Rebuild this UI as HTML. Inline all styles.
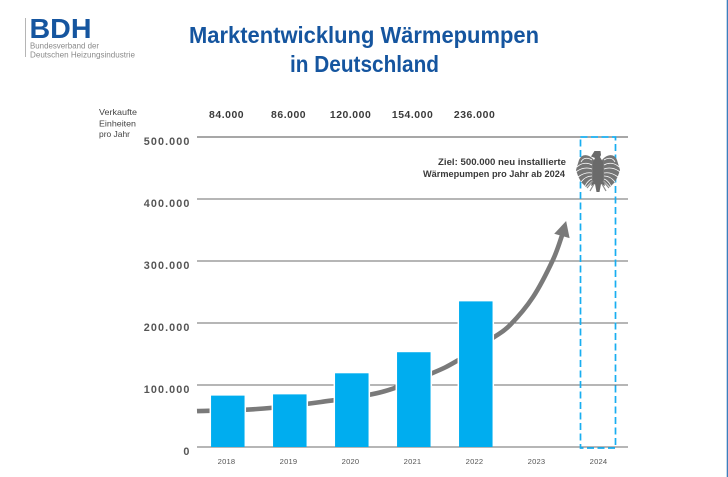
<!DOCTYPE html>
<html lang="de">
<head>
<meta charset="utf-8">
<title>Marktentwicklung Wärmepumpen in Deutschland</title>
<style>
html,body{margin:0;padding:0;background:#fff;}
body{width:728px;height:477px;overflow:hidden;}
svg{display:block;font-family:"Liberation Sans",sans-serif;}
</style>
</head>
<body>
<svg id="chart" xmlns="http://www.w3.org/2000/svg" width="728" height="477" viewBox="0 0 728 477">
  <rect width="728" height="477" fill="#ffffff"/>
  <rect x="726.7" y="0" width="1.3" height="477" fill="#3d7fbd"/>

  <g>
    <rect x="25" y="18" width="1" height="39" fill="#b5b5b5"/>
    <text x="29.5" y="38" font-size="28" font-weight="700" fill="#15559f" textLength="62" lengthAdjust="spacingAndGlyphs">BDH</text>
    <text x="30" y="48.5" font-size="8" fill="#8a8a8a" textLength="69" lengthAdjust="spacingAndGlyphs">Bundesverband der</text>
    <text x="30" y="57.5" font-size="8" fill="#8a8a8a" textLength="105" lengthAdjust="spacingAndGlyphs">Deutschen Heizungsindustrie</text>
  </g>

  <text x="189" y="43" font-size="23" font-weight="700" fill="#15559f" textLength="350" lengthAdjust="spacingAndGlyphs">Marktentwicklung Wärmepumpen</text>
  <text x="290" y="72" font-size="23" font-weight="700" fill="#15559f" textLength="149" lengthAdjust="spacingAndGlyphs">in Deutschland</text>

  <g font-size="8.5" fill="#444444">
    <text x="99" y="115" textLength="38" lengthAdjust="spacingAndGlyphs">Verkaufte</text>
    <text x="99" y="126.5" textLength="37" lengthAdjust="spacingAndGlyphs">Einheiten</text>
    <text x="99" y="137" textLength="31" lengthAdjust="spacingAndGlyphs">pro Jahr</text>
  </g>

  <g id="grid"></g>
  <g id="yticks"></g>
  <g id="trend"></g>
  <g id="bars"></g>
  <g id="xticks"></g>
  <g id="values"></g>
  <g id="target"></g>

  <g font-size="8.8" font-weight="700" fill="#3a3a3a" text-anchor="end">
    <text x="566" y="165" textLength="128" lengthAdjust="spacingAndGlyphs">Ziel: 500.000 neu installierte</text>
    <text x="565" y="177" textLength="142" lengthAdjust="spacingAndGlyphs">Wärmepumpen pro Jahr ab 2024</text>
  </g>

  <g transform="translate(598,0)">
    <path fill="#757575" d="M-4 160 C-9 154 -16 153 -19 160 L-22 170 L-20 176 L-17 182 L-12 187 L-5 180 Z"/>
    <path fill="#757575" d="M4 160 C9 154 16 153 19 160 L22 170 L20 176 L17 182 L12 187 L5 180 Z"/>
    <g fill="none" stroke="#ffffff" stroke-width="0.8">
      <path d="M-6 160 C-11 157 -15 158 -17 162"/>
      <path d="M-6 165 C-11 162 -17 163 -21 167"/>
      <path d="M-6 169 C-11 167 -17 168 -22 172"/>
      <path d="M-6 173 C-11 172 -16 174 -20 177"/>
      <path d="M-6 176 C-10 176 -14 178 -17 182"/>
      <path d="M-6 179 C-9 180 -11 182 -13 186"/>
      <path d="M6 160 C11 157 15 158 17 162"/>
      <path d="M6 165 C11 162 17 163 21 167"/>
      <path d="M6 169 C11 167 17 168 22 172"/>
      <path d="M6 173 C11 172 16 174 20 177"/>
      <path d="M6 176 C10 176 14 178 17 182"/>
      <path d="M6 179 C9 180 11 182 13 186"/>
    </g>
    <path fill="#6a6a6a" d="M-3.5 151 L2.5 151 L3 155 L2 157 L5 162 L5 178 L7 186 L3 184 L1.5 192 L-1.5 192 L-3 184 L-7 186 L-5 178 L-5 162 L-3 158 L-7 156.5 Z"/>
    <g fill="none" stroke="#8a8a8a" stroke-width="1.2">
      <path d="M-5 181 L-11 188 M-4 184 L-8 191 M5 181 L11 188 M4 184 L8 191"/>
    </g>
  </g>
</svg>
<script>
// Chart data
const years = ['2018', '2019', '2020', '2021', '2022', '2023', '2024'];
const barYears = ['2018', '2019', '2020', '2021', '2022'];
const barValues = [84000, 86000, 120000, 154000, 236000];
const valueLabels = ['84.000', '86.000', '120.000', '154.000', '236.000'];
const yTicks = [0, 100000, 200000, 300000, 400000, 500000];
const yTickLabels = ['0', '100.000', '200.000', '300.000', '400.000', '500.000'];
const targetYear = '2024';
const targetValue = 500000;
// Growth arrow: position on the year axis and read-off height
const trendYearPos = [2017.5, 2018.47, 2019.5, 2020.48, 2021.29, 2021.69, 2022.27, 2022.55, 2022.92, 2023.24, 2023.39];
const trendValues = [58000, 61300, 72600, 88700, 119000, 138700, 175800, 196800, 241900, 301600, 342000];

const NS = 'http://www.w3.org/2000/svg';
const plot = {left: 197, right: 628, top: 137, bottom: 447};
const yMax = 500000;
const yearFirst = 2018, yearStep = 62, yearStart = 228;
const barWidth = 33.5;

function yScale(v) { return plot.bottom - (v / yMax) * (plot.bottom - plot.top); }
function xScale(y) { return yearStart + (Number(y) - yearFirst) * yearStep; }
function make(tag, attrs, parent, text) {
  const el = document.createElementNS(NS, tag);
  for (const k in attrs) el.setAttribute(k, attrs[k]);
  if (text !== undefined) el.textContent = text;
  parent.appendChild(el);
  return el;
}

// gridlines and y labels
yTicks.forEach(function (t, i) {
  const line = make('line', {x1: plot.left, x2: plot.right, y1: yScale(t), y2: yScale(t), stroke: i === 5 ? '#4f4f4f' : '#6e6e6e', 'stroke-width': 1}, document.getElementById('grid'));
  
  
  const label = make('text', {x: 190.5, y: yScale(t) + 8, 'text-anchor': 'end', 'font-size': 10.8, 'font-weight': 700, fill: '#555555', 'letter-spacing': 1.1}, document.getElementById('yticks'), yTickLabels[i]);
  
  
});

// growth arrow
const trendPoints = trendYearPos.map(function (y, i) { return [xScale(y), yScale(trendValues[i])]; });
function smoothPath(p) {
  let d = 'M' + p[0][0] + ' ' + p[0][1];
  for (let i = 0; i < p.length - 1; i++) {
    const p0 = p[Math.max(i - 1, 0)], p1 = p[i], p2 = p[i + 1], p3 = p[Math.min(i + 2, p.length - 1)];
    d += ' C' + (p1[0] + (p2[0] - p0[0]) / 6) + ' ' + (p1[1] + (p2[1] - p0[1]) / 6) + ' ' +
         (p2[0] - (p3[0] - p1[0]) / 6) + ' ' + (p2[1] - (p3[1] - p1[1]) / 6) + ' ' + p2[0] + ' ' + p2[1];
  }
  return d;
}
const trendGroup = document.getElementById('trend');
const trendLine = make('path', {d: smoothPath(trendPoints), fill: 'none', stroke: '#7a7a7a', 'stroke-width': 4.6}, trendGroup);


const tip = trendPoints[trendPoints.length - 1];
const prev = trendPoints[trendPoints.length - 2];
const ang = Math.atan2(tip[1] - prev[1], tip[0] - prev[0]) - 0.08;
function headPoint(along, side) {
  return (tip[0] + along * Math.cos(ang) - side * Math.sin(ang)) + ',' + (tip[1] + along * Math.sin(ang) + side * Math.cos(ang));
}
const trendHead = make('polygon', {points: [headPoint(-1, -8), headPoint(14.5, 0), headPoint(-1, 8)].join(' '), fill: '#7a7a7a'}, trendGroup);



// bars with white halo
const barGroup = document.getElementById('bars');
barValues.forEach(function (v, i) {
  const cx = xScale(barYears[i]) - 0.2;
  const top = yScale(v) + 0.7;
  const halo = make('rect', {x: cx - barWidth / 2 - 1.5, y: top - 1, width: barWidth + 3, height: plot.bottom - top + 0.5, fill: '#ffffff'}, barGroup);
  
  
  const bar = make('rect', {x: cx - barWidth / 2, y: top, width: barWidth, height: plot.bottom - top, fill: '#00adef'}, barGroup);
  
  
  const label = make('text', {x: cx - 1.2, y: 118, 'text-anchor': 'middle', 'font-size': 10.4, 'font-weight': 700, fill: '#3a3a3a', 'letter-spacing': 0.55}, document.getElementById('values'), valueLabels[i]);
  
  
});

// year labels
years.forEach(function (y) {
  const label = make('text', {x: xScale(y) - 1.5, y: 464, 'text-anchor': 'middle', 'font-size': 7.6, fill: '#555555', 'letter-spacing': 0.2}, document.getElementById('xticks'), y);
  
  
});

// target box
const targetCx = xScale(targetYear) - 2;
const targetBox = make('rect', {x: targetCx - 17.5, y: yScale(targetValue), width: 35, height: plot.bottom - yScale(targetValue) + 1, fill: 'none', stroke: '#18aef0', 'stroke-width': 1.7, 'stroke-dasharray': '7 3.5'}, document.getElementById('target'));


</script>
</body>
</html>
